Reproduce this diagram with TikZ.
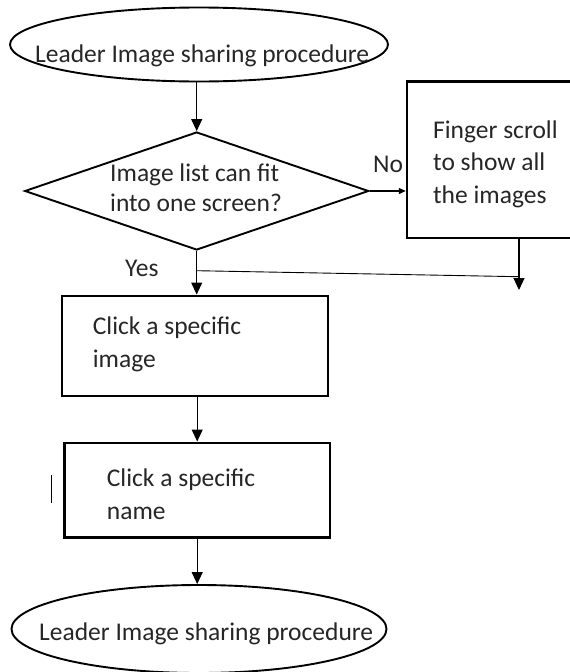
\documentclass[tikz,border=0pt]{standalone}
\usepackage{fontspec}
\setmainfont{Carlito}
\usetikzlibrary{shapes.geometric,arrows.meta}
\begin{document}
\begin{tikzpicture}[x=1pt,y=-1pt,
  txt/.style={inner sep=0pt,anchor=base west,align=left,text=black!85,
    font=\fontsize{25.5}{32.5}\selectfont},
  oval/.style={draw,ellipse,line width=1.9pt,inner sep=0pt},
  box/.style={draw,rectangle,line width=2.4pt,inner sep=0pt},
  flow/.style={line width=1.1pt,-{Triangle[width=11pt,length=12pt]}},
  flowsmall/.style={line width=1.1pt,-{Triangle[width=6pt,length=7pt]}}]
\useasboundingbox (0,0) rectangle (570,672);

% shapes
\node[oval,minimum width=378pt,minimum height=74pt] (start) at (199,44.5) {};
\node[draw,diamond,line width=1.9pt,inner sep=0pt,
      minimum width=344pt,minimum height=118pt] (dec) at (196.7,191) {};
\node[box,minimum width=168pt,minimum height=156.3pt] (scroll) at (491,159.8) {};
\node[box,minimum width=266pt,minimum height=100pt] (pick) at (194.7,345.7) {};
\node[box,minimum width=265.7pt,minimum height=94.6pt] (name) at (197.2,490) {};
\node[oval,minimum width=375pt,minimum height=88pt] (finish) at (199,629) {};

% texts (a multi-line node sits on the baseline of its last line)
\node[txt] (tstart) at (35,62) {Leader Image sharing procedure};
\node[txt,font=\fontsize{25.5}{30}\selectfont] (tdec) at (110,211) {Image list can fit\\into one screen?};
\node[txt] (tscroll) at (433,203.3) {Finger scroll\\to show all\\the images};
\node[txt] (tpick) at (92.7,367) {Click a specific\\image};
\node[txt] (tname) at (106.7,519) {Click a specific\\name};
\node[txt] (tfinish) at (39,640) {Leader Image sharing procedure};
\node[txt] (lno) at (373,172) {No};
\node[txt] (lyes) at (125,276.7) {Yes};

% free ends of the side branch
\coordinate (drop) at (519,290);
\coordinate (merge) at (519,276.7);
\coordinate (split) at (196.7,270.7);

% connectors
\draw[flow] (start.south -| dec.north) -- (dec.north);
\draw[flowsmall] (dec.east) -- (scroll.west |- dec.east);
\draw[flow] (dec.south) -- (dec.south |- pick.north);
\draw[line width=0.9pt] (split) -- (merge);
\draw[flow] (scroll.south -| drop) -- (drop);
\draw[flow] (name.north |- pick.south) -- (name.north);
\draw[flow] (name.south) -- (name.south |- finish.north);

% small stray mark beside the second box
\draw[line width=1.2pt] (51.7,475) -- (51.7,503.3);
\end{tikzpicture}
\end{document}
